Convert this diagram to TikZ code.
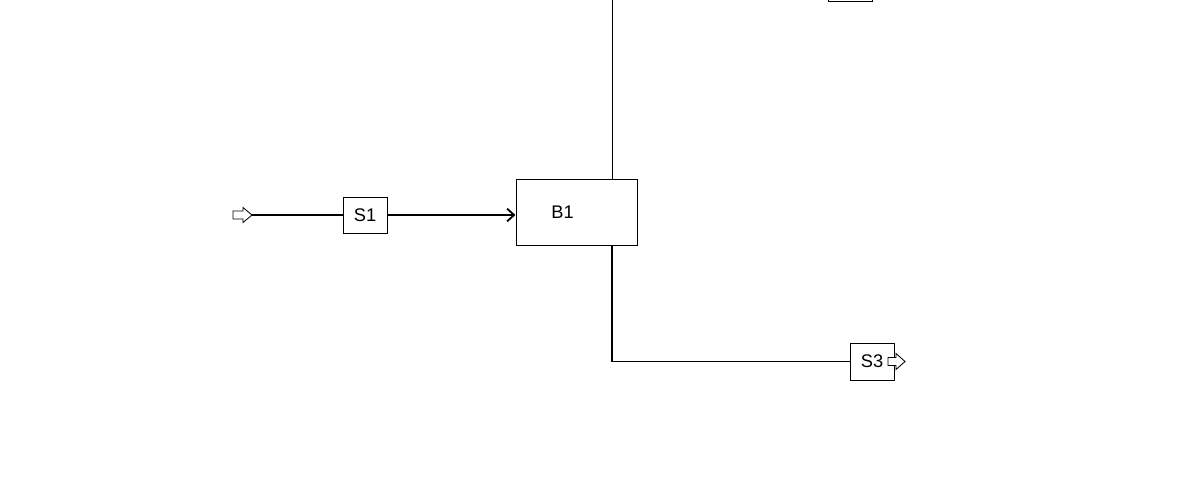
\documentclass[tikz,border=0pt]{standalone}
\usepackage{fontspec}
\setmainfont{Liberation Sans}
\usetikzlibrary{arrows.meta,positioning}
\begin{document}
\begin{tikzpicture}[x=0.025cm,y=-0.025cm,>={Straight Barb[length=5pt,width=9pt]}]
  \tikzstyle{blk}=[draw,line width=0.7pt,inner sep=0pt,font=\fontsize{13}{15}\selectfont]
  \tikzstyle{port}=[draw,fill=white,line width=0.6pt,line join=miter]
  \clip (0,0) rectangle (1200,480);
  \fill[white] (0,0) rectangle (1200,480);
  \node[blk,minimum width=1.1cm,minimum height=0.9cm] (S1) at (365,215) {S1};
  \node[blk,minimum width=3.025cm,minimum height=1.65cm,label={[xshift=-0.35cm,font=\fontsize{13}{15}\selectfont]center:B1}] (B1) at (576.5,212) {};
  \node[blk,minimum width=1.1cm,minimum height=0.925cm] (S3) at (872,361.5) {S3};
  \node[blk,minimum width=1.1cm,minimum height=0.925cm] (S2) at (850,-17.5) {};
  \coordinate (feed) at (233,215);
  \coordinate (feedtip) at (252,215);
  \coordinate (prod) at (888,361.5);
  \coordinate (vap) at (612,-5);
  % streams
  \draw[line width=1.3pt] (feedtip) -- (S1);
  \draw[line width=1.3pt,->] (S1) -- (S1 -| B1.west);
  \draw[line width=0.7pt] (vap) -- (vap |- B1.north);
  \draw[line width=0.8pt] (vap |- B1.south) |- (S3);
  % ports
  \draw[port] (feed) ++(0,-4) -- ++(10,0) -- ++(0,-3.5) -- ++(9,7.5) -- ++(-9,7.5) -- ++(0,-3.5) -- ++(-10,0) -- cycle;
  \draw[port] (prod) ++(0,-4) -- ++(8,0) -- ++(0,-4) -- ++(9,8) -- ++(-9,8) -- ++(0,-4) -- ++(-8,0) -- cycle;
\end{tikzpicture}
\end{document}
